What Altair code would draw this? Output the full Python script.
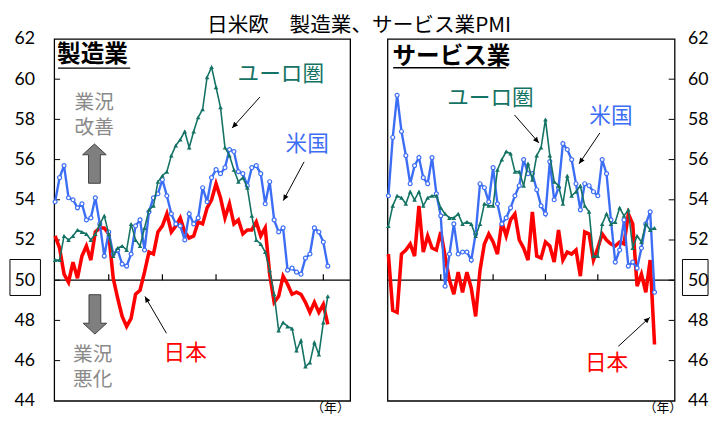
import math
import altair as alt
import pandas as pd

# ---------------- data (monthly, Jan 2015 .. Feb 2020) ----------------
idx = list(range(62))

jp_mfg = [52.2, 51.6, 50.3, 49.9, 50.9, 50.1, 51.2, 51.7, 51.0, 52.4, 52.6, 52.6,
          52.3, 50.1, 49.1, 48.2, 47.7, 48.1, 49.3, 49.5, 50.4, 51.4, 51.3, 52.4,
          52.7, 53.3, 52.4, 52.7, 53.1, 52.4, 52.1, 52.2, 52.9, 52.8, 53.6, 54.0,
          54.8, 54.1, 53.1, 53.8, 52.8, 53.0, 52.3, 52.5, 52.5, 52.9, 52.2, 52.6,
          50.3, 48.9, 49.2, 50.2, 49.8, 49.3, 49.4, 49.3, 48.9, 48.4, 48.9, 48.4,
          48.8, 47.8]
us_mfg = [53.9, 55.1, 55.7, 54.1, 54.0, 53.6, 53.8, 53.0, 53.1, 54.1, 52.8, 51.2,
          52.4, 51.3, 51.5, 50.8, 50.7, 51.3, 52.7, 53.0, 51.5, 53.4, 54.1, 54.3,
          55.0, 54.2, 53.3, 52.8, 52.7, 52.0, 53.3, 52.8, 53.1, 54.6, 53.9, 55.1,
          55.5, 55.3, 55.6, 56.5, 56.4, 55.4, 55.3, 54.7, 55.6, 55.7, 55.3, 53.8,
          54.9, 53.0, 52.4, 52.6, 50.5, 50.6, 50.4, 50.3, 51.1, 51.3, 52.6, 52.4,
          51.9, 50.7]
ez_mfg = [51.0, 51.0, 52.2, 52.0, 52.2, 52.5, 52.4, 52.3, 52.0, 52.3, 52.8, 53.2,
          52.3, 51.2, 51.6, 51.7, 51.5, 52.8, 52.0, 51.7, 52.6, 53.5, 53.7, 54.9,
          55.2, 55.4, 56.2, 56.7, 57.0, 57.4, 56.6, 57.4, 58.1, 58.5, 60.1, 60.6,
          59.6, 58.6, 56.6, 56.2, 55.5, 54.9, 55.1, 54.6, 53.2, 52.0, 51.8, 51.4,
          50.5, 49.3, 47.5, 47.9, 47.7, 47.6, 46.5, 47.0, 45.7, 45.9, 46.9, 46.3,
          47.9, 49.2]
jp_svc = [51.3, 48.5, 48.4, 51.3, 51.5, 51.8, 51.2, 53.7, 51.4, 52.2, 51.6, 51.5,
          52.4, 51.2, 50.0, 49.3, 50.4, 49.4, 50.4, 49.6, 48.2, 50.5, 51.8, 52.3,
          51.9, 51.3, 52.9, 52.2, 53.0, 53.3, 52.0, 51.6, 51.0, 53.4, 51.2, 51.1,
          51.9, 51.7, 50.9, 52.5, 51.0, 51.4, 51.3, 51.5, 50.2, 52.4, 52.3, 51.0,
          51.6, 52.3, 52.0, 51.8, 51.7, 51.9, 51.8, 53.3, 52.8, 49.7, 50.3, 49.4,
          51.0, 46.8]
us_svc = [54.2, 57.1, 59.2, 57.4, 56.2, 54.8, 55.7, 56.1, 55.1, 54.8, 56.1, 54.3,
          53.2, 49.7, 51.3, 52.8, 51.3, 51.4, 51.4, 51.0, 52.3, 54.8, 54.6, 53.9,
          55.6, 53.8, 52.8, 53.1, 53.6, 54.2, 54.7, 56.0, 55.3, 55.3, 54.5, 53.7,
          53.3, 55.9, 54.0, 54.6, 56.8, 56.5, 56.0, 54.8, 53.5, 54.8, 54.7, 54.4,
          54.2, 56.0, 55.3, 53.0, 50.9, 51.5, 53.0, 50.7, 50.9, 50.6, 51.6, 52.8,
          53.4, 49.4]
ez_svc = [52.7, 53.7, 54.2, 54.1, 53.8, 54.4, 54.0, 54.4, 53.7, 54.1, 54.2, 54.2,
          53.6, 53.3, 53.1, 53.1, 53.3, 52.8, 52.9, 52.8, 52.2, 52.8, 53.8, 53.7,
          53.7, 55.5, 56.0, 56.4, 56.3, 55.4, 55.4, 54.7, 55.8, 55.0, 56.2, 56.6,
          58.0, 56.2, 54.9, 54.7, 53.8, 55.2, 54.2, 54.4, 54.7, 53.7, 53.4, 51.2,
          51.2, 52.8, 53.3, 52.8, 52.9, 53.6, 53.2, 53.5, 51.6, 52.2, 51.9, 52.8,
          52.5, 52.6]

year_ticks = [12, 24, 36, 48, 60]
y_labels = [44, 46, 48, 50, 52, 54, 56, 58, 60, 62]
y_inner = [46, 48, 50, 52, 54, 56, 58, 60]

TITLE = "日米欧　製造業、サービス業PMI"
JP_FONT = "Noto Sans CJK JP"
NUM_FONT = "Lato"

RED = "#ff0000"
BLUE = "#3c6ef5"
TEAL = "#147364"
GRAY = "#8a8a8a"

H = 368
YMIN, YMAX = 44, 62

# annotations: (x index, value of first line, text, colour, size)
left_texts = [
    (50.5, 60.25, "ユーロ圏", TEAL, 22),
    (56.4, 56.78, "米国", BLUE, 22),
    (29.1, 46.37, "日本", RED, 22),
    (8.75, 58.81, "業況\n改善", GRAY, 20),
    (8.4, 46.27, "業況\n悪化", GRAY, 20),
]
right_texts = [
    (23.4, 59.06, "ユーロ圏", TEAL, 22),
    (51.0, 58.17, "米国", BLUE, 22),
    (50.0, 45.87, "日本", RED, 22),
]
left_arrows = [(45.8, 59.11, 39.6, 57.57), (55.7, 55.89, 51.05, 53.96), (24.9, 47.36, 20.1, 49.19)]
right_arrows = [(28.9, 58.22, 34.5, 56.83), (48.45, 57.32, 43.7, 55.79), (52.7, 46.71, 59.9, 48.15)]

HEAD = "M0,0 L0.45,1 L-0.45,1 Z"
UP = "M0,-1 L0.6,-0.45 L0.3,-0.45 L0.3,1 L-0.3,1 L-0.3,-0.45 L-0.6,-0.45 Z"
DOWN = "M0,1 L0.6,0.45 L0.3,0.45 L0.3,-1 L-0.3,-1 L-0.3,0.45 L-0.6,0.45 Z"


def panel(jp, us, ez, width, xdom, label, label_pos, underline, texts, arrows, side):
    xscale = alt.Scale(domain=xdom, nice=False, zero=False)
    yscale = alt.Scale(domain=[YMIN, YMAX], nice=False, zero=False)
    xaxis = alt.Axis(title="（年）", labels=False, ticks=False, domain=False, grid=False,
                     tickSize=0, titleFont=JP_FONT, titleFontSize=13, titleFontWeight="normal",
                     titleColor="black", titleAnchor="end", titleAlign="right",
                     titleX=(width - 1 if side == "left" else width + 7), titlePadding=1)
    if side == "left":
        ext, pad = 45, 20
    else:
        ext, pad = 34, 13
    yaxis = alt.Axis(values=y_labels, orient=side, ticks=False, tickSize=0, domain=False,
                     grid=False, title=None, labelFont=NUM_FONT, labelFontSize=18,
                     labelColor="black", labelPadding=pad, minExtent=ext, maxExtent=ext)

    def X(f):
        return alt.X(f"{f}:Q", scale=xscale, axis=xaxis)

    def Y(f):
        return alt.Y(f"{f}:Q", scale=yscale, axis=yaxis)

    sx = width / (xdom[1] - xdom[0])
    sy = H / (YMAX - YMIN)
    layers = []

    # inward y ticks
    tick_df = pd.DataFrame({"v": y_inner})
    if side == "left":
        tx, tx2 = 0, 6
    else:
        tx, tx2 = width - 6, width
    layers.append(alt.Chart(tick_df).mark_rule(color="black", strokeWidth=1).encode(
        x=alt.value(tx), x2=alt.value(tx2), y=Y("v")))

    # 50 line and year ticks
    layers.append(alt.Chart(pd.DataFrame({"v": [50]})).mark_rule(color="black", strokeWidth=1.3).encode(
        y=Y("v")))
    yt = pd.DataFrame({"i": year_ticks, "v": [50] * len(year_ticks), "v2": [50.3] * len(year_ticks)})
    layers.append(alt.Chart(yt).mark_rule(color="black", strokeWidth=1.2).encode(
        x=X("i"), y=Y("v"), y2=alt.Y2("v2")))

    # boxed 50 label
    box = pd.DataFrame({"v": [51.03], "v2": [49.24]})
    if side == "left":
        bx, bx2 = -45, -14
    else:
        bx, bx2 = width + 8, width + 34
    layers.append(alt.Chart(box).mark_rect(fillOpacity=0, stroke="black", strokeWidth=1).encode(
        x=alt.value(bx), x2=alt.value(bx2), y=Y("v"), y2=alt.Y2("v2")))

    # series
    df_jp = pd.DataFrame({"i": idx, "v": jp})
    df_us = pd.DataFrame({"i": idx, "v": us})
    df_ez = pd.DataFrame({"i": idx, "v": ez})
    layers.append(alt.Chart(df_jp).mark_line(color=RED, strokeWidth=3.6).encode(x=X("i"), y=Y("v")))
    layers.append(alt.Chart(df_us).mark_line(color=BLUE, strokeWidth=2.4).encode(x=X("i"), y=Y("v")))
    layers.append(alt.Chart(df_us).mark_point(shape="circle", filled=True, fill="white", stroke=BLUE,
                                              strokeWidth=1.2, size=16, opacity=1).encode(x=X("i"), y=Y("v")))
    layers.append(alt.Chart(df_ez).mark_line(color=TEAL, strokeWidth=1.6).encode(x=X("i"), y=Y("v")))
    layers.append(alt.Chart(df_ez).mark_point(shape="triangle-up", filled=True, color=TEAL,
                                              size=22, opacity=1).encode(x=X("i"), y=Y("v")))

    # panel label + underline
    lab = pd.DataFrame({"i": [label_pos[0]], "v": [label_pos[1]], "t": [label]})
    layers.append(alt.Chart(lab).mark_text(font=JP_FONT, fontSize=24, fontWeight="bold", color="black",
                                           align="left", baseline="middle").encode(
        x=X("i"), y=Y("v"), text="t:N"))
    ul = pd.DataFrame({"i": [underline[0]], "i2": [underline[1]], "v": [underline[2]]})
    layers.append(alt.Chart(ul).mark_rule(color="black", strokeWidth=1.5).encode(
        x=X("i"), x2=alt.X2("i2"), y=Y("v")))

    # annotation texts
    tdf = pd.DataFrame(texts, columns=["i", "v", "t", "c", "s"])
    layers.append(alt.Chart(tdf).mark_text(font=JP_FONT, align="center", baseline="middle",
                                           lineBreak="\n", lineHeight=25).encode(
        x=X("i"), y=Y("v"), text="t:N", color=alt.Color("c:N", scale=None),
        size=alt.Size("s:Q", scale=None)))

    # arrows
    rows = []
    for (i1, v1, i2, v2) in arrows:
        dx = (i2 - i1) * sx
        dy = -(v2 - v1) * sy
        a = math.degrees(math.atan2(dx, -dy)) % 360
        rows.append({"i": i1, "v": v1, "i2": i2, "v2": v2, "a": a})
    adf = pd.DataFrame(rows)
    layers.append(alt.Chart(adf).mark_rule(color="black", strokeWidth=1).encode(
        x=X("i"), y=Y("v"), x2=alt.X2("i2"), y2=alt.Y2("v2")))
    layers.append(alt.Chart(adf).mark_point(shape=HEAD, filled=True, color="black", size=144,
                                            opacity=1).encode(
        x=X("i2"), y=Y("v2"), angle=alt.Angle("a:Q", scale=None)))

    if side == "left":
        up = pd.DataFrame({"i": [8.8], "v": [55.8]})
        dn = pd.DataFrame({"i": [8.9], "v": [48.3]})
        layers.append(alt.Chart(up).mark_point(shape=UP, filled=True, fill="#7f7f7f", stroke="#404040",
                                               strokeWidth=1, size=1600, opacity=1).encode(x=X("i"), y=Y("v")))
        layers.append(alt.Chart(dn).mark_point(shape=DOWN, filled=True, fill="#7f7f7f", stroke="#404040",
                                               strokeWidth=1, size=1600, opacity=1).encode(x=X("i"), y=Y("v")))

    return alt.layer(*layers).properties(width=width, height=H)


left = panel(jp_mfg, us_mfg, ez_mfg, 301, [-0.2, 66.0], "製造業", (0.45, 61.19), (0.66, 16.8, 60.55),
             left_texts, left_arrows, "left")
right = panel(jp_svc, us_svc, ez_svc, 292, [-0.2, 65.6], "サービス業", (0.95, 61.12), (1.1, 27.0, 60.57),
              right_texts, right_arrows, "right")

chart = alt.hconcat(left, right, spacing=29).resolve_scale(x="independent", y="independent").properties(
    title=alt.TitleParams(TITLE, font=JP_FONT, fontSize=21, fontWeight="normal", color="black",
                          anchor="middle", offset=-7),
    padding={"left": 0, "top": 4, "right": 0, "bottom": 0},
).configure_view(stroke="black", strokeWidth=1.3)

chart.save("out.html", embed_options={"renderer": "svg", "actions": False})
